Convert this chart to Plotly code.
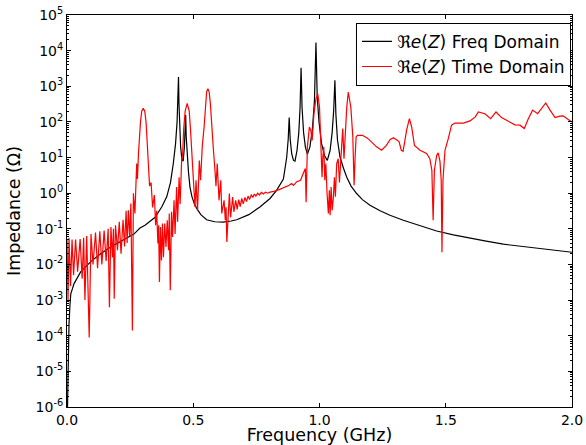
import plotly.graph_objects as go

# ---------------- data ----------------
freq_fd = [0.002, 0.005, 0.008, 0.012, 0.015, 0.028, 0.054, 0.094, 0.133, 0.173,
           0.199, 0.239, 0.265, 0.289, 0.309, 0.349, 0.375, 0.395, 0.410, 0.421,
           0.430, 0.436, 0.4395, 0.4416, 0.4435, 0.446, 0.450, 0.455, 0.460, 0.465,
           0.468, 0.470, 0.472, 0.476, 0.481, 0.487, 0.495, 0.504, 0.513, 0.530,
           0.553, 0.585, 0.619, 0.650, 0.672, 0.720, 0.764, 0.804, 0.830, 0.857,
           0.870, 0.876, 0.880, 0.884, 0.890, 0.897, 0.903, 0.911, 0.918, 0.923,
           0.927, 0.931, 0.937, 0.944, 0.952, 0.962, 0.972, 0.980, 0.986, 0.991,
           0.998, 1.008, 1.020, 1.031, 1.042, 1.050, 1.056, 1.061, 1.065, 1.071,
           1.081, 1.095, 1.108, 1.125, 1.147, 1.170, 1.200, 1.240, 1.279, 1.332,
           1.400, 1.464, 1.530, 1.596, 1.660, 1.728, 1.800, 1.860, 1.930, 2.000]
z_fd = [1.0e-6, 2.5e-5, 2.2e-4, 7.9e-4, 1.5e-3, 2.9e-3, 6.2e-3, 1.2e-2, 2.0e-2, 3.1e-2,
        3.9e-2, 5.4e-2, 7.1e-2, 1.05e-1, 1.26e-1, 2.1e-1, 4.1e-1, 7.9e-1, 2.0, 6.8,
        25, 100, 400, 1820, 316, 79, 20, 8.9, 7.9, 20,
        50, 155, 40, 10.5, 4.0, 1.48, 0.79, 0.51, 0.38, 0.25,
        0.18, 0.158, 0.155, 0.166, 0.18, 0.25, 0.41, 0.71, 1.2, 2.5,
        10, 32, 132, 32, 12.6, 8.3, 7.9, 16, 50, 250,
        3300, 250, 50, 20, 12.3, 20, 63, 400, 17000, 500,
        100, 25, 11.2, 8.3, 16, 50, 200, 1480, 160, 32,
        10.5, 5.0, 2.8, 1.58, 0.98, 0.66, 0.46, 0.32, 0.24, 0.174,
        0.12, 0.087, 0.068, 0.054, 0.045, 0.037, 0.032, 0.028, 0.025, 0.022]

freq_td = [0.000, 0.004, 0.008, 0.014, 0.020, 0.026, 0.034, 0.042, 0.052, 0.060,
           0.066, 0.071, 0.078, 0.088, 0.095, 0.103, 0.113, 0.121, 0.130, 0.138,
           0.147, 0.155, 0.163, 0.168, 0.174, 0.180, 0.184, 0.187, 0.192, 0.200,
           0.207, 0.214, 0.222, 0.228, 0.234, 0.238, 0.243, 0.248, 0.253, 0.259,
           0.263, 0.269, 0.276, 0.279, 0.283, 0.287, 0.291, 0.296, 0.302, 0.308,
           0.313, 0.317, 0.320, 0.322, 0.327, 0.333, 0.339, 0.346, 0.351, 0.355,
           0.360, 0.363, 0.366, 0.370, 0.374, 0.378, 0.382, 0.387, 0.392, 0.397,
           0.402, 0.405, 0.409, 0.414, 0.418, 0.424, 0.428, 0.434, 0.438, 0.444,
           0.448, 0.454, 0.458, 0.462, 0.468, 0.476, 0.484, 0.489, 0.494, 0.500,
           0.507, 0.511, 0.517, 0.524, 0.529, 0.536, 0.543, 0.548, 0.553, 0.558,
           0.563, 0.568, 0.573, 0.579, 0.586, 0.590, 0.595, 0.602, 0.609, 0.613,
           0.622, 0.627, 0.630, 0.633, 0.643, 0.648, 0.656, 0.661, 0.668, 0.674,
           0.680, 0.686, 0.692, 0.698, 0.705, 0.711, 0.717, 0.723, 0.730, 0.736,
           0.742, 0.748, 0.755, 0.762, 0.770, 0.778, 0.786, 0.795, 0.804, 0.820,
           0.840, 0.860, 0.880, 0.890, 0.897, 0.910, 0.925, 0.935, 0.944, 0.947,
           0.952, 0.960, 0.966, 0.971, 0.978, 0.986, 0.993, 1.000, 1.006, 1.010,
           1.013, 1.017, 1.021, 1.025, 1.030, 1.035, 1.039, 1.042, 1.046, 1.050,
           1.055, 1.059, 1.063, 1.068, 1.074, 1.079, 1.085, 1.092, 1.097, 1.102,
           1.108, 1.114, 1.120, 1.124, 1.132, 1.137, 1.141, 1.145, 1.150, 1.170,
           1.190, 1.200, 1.226, 1.246, 1.265, 1.280, 1.293, 1.315, 1.324, 1.331,
           1.345, 1.356, 1.365, 1.376, 1.398, 1.424, 1.437, 1.445, 1.450, 1.455,
           1.464, 1.470, 1.477, 1.482, 1.485, 1.489, 1.497, 1.510, 1.523, 1.536,
           1.570, 1.596, 1.617, 1.629, 1.655, 1.678, 1.699, 1.721, 1.747, 1.774,
           1.794, 1.811, 1.827, 1.844, 1.864, 1.880, 1.896, 1.913, 1.933, 1.952,
           1.965, 1.985, 2.000]
z_td = [0.05, 1.0e-3, 0.056, 2.5e-3, 0.05, 5.0e-3, 0.05, 6.3e-3, 0.052, 4.0e-3,
        0.056, 1.0e-3, 0.063, 8.9e-5, 0.071, 0.01, 0.079, 7.9e-3, 0.085, 0.01,
        0.089, 0.0126, 0.1, 6.3e-4, 0.112, 0.0158, 0.1, 1.1e-3, 0.126, 0.025,
        0.158, 0.02, 0.178, 0.032, 0.32, 0.04, 0.33, 0.063, 0.51, 1.4e-4,
        1.0, 0.27, 6.8, 2.5, 12.6, 40, 100, 200, 240, 200,
        100, 32, 10, 6.8, 1.58, 2.0, 0.4, 0.89, 0.126, 0.32,
        0.039, 0.126, 3.2e-3, 0.112, 0.013, 0.14, 0.016, 0.14, 0.031, 0.174,
        0.025, 0.27, 1.9e-3, 0.3, 0.059, 0.63, 0.072, 1.48, 0.158, 2.8,
        0.5, 8.3, 12.6, 63, 200, 330, 200, 63, 10.5, 2.8,
        0.41, 2.3, 0.32, 8.3, 2.3, 22, 72, 316, 700, 850,
        700, 316, 72, 20, 4.4, 1.58, 6.8, 0.63, 2.3, 0.27,
        0.63, 0.174, 0.4, 0.043, 0.98, 0.21, 0.78, 0.3, 0.63, 0.35,
        0.66, 0.42, 0.71, 0.5, 0.76, 0.58, 0.83, 0.66, 0.91, 0.76,
        0.95, 0.83, 1.0, 0.89, 1.05, 0.95, 1.07, 1.0, 1.07, 1.12,
        1.26, 1.41, 1.66, 1.86, 1.66, 2.1, 2.3, 3.5, 4.9, 0.56,
        20, 72, 56, 30, 170, 450, 620, 260, 30, 2.8,
        10, 20, 2.3, 6.8, 0.98, 0.27, 1.2, 0.24, 1.48, 0.33,
        0.78, 2.8, 0.79, 6.8, 9.3, 2.0, 10, 65, 9.3, 63,
        260, 690, 400, 260, 38, 1.66, 10, 38, 42, 42,
        35, 30, 20, 16, 22, 32, 36, 28, 16, 15,
        59, 123, 72, 22, 16, 13, 9.3, 4.4, 0.174, 4.4,
        11.5, 13.5, 7.9, 2.3, 0.022, 2.3, 16, 34, 81, 93,
        93, 107, 138, 190, 170, 123, 190, 132, 107, 83,
        81, 65, 123, 214, 170, 234, 339, 214, 132, 145,
        148, 117, 100]

x_tick_vals = [0.0, 0.5, 1.0, 1.5, 2.0]
x_tick_text = ["0.0", "0.5", "1.0", "1.5", "2.0"]
y_exponents = [-6, -5, -4, -3, -2, -1, 0, 1, 2, 3, 4, 5]
y_tick_vals = [10.0 ** e for e in y_exponents]
y_tick_text = ["10<sup>%d</sup>" % e for e in y_exponents]
y_minor_vals = [m * 10.0 ** e for e in y_exponents[:-1] for m in range(2, 10)]

name_fd = "ℜ<i>e</i>(<i>Z</i>) Freq Domain"
name_td = "ℜ<i>e</i>(<i>Z</i>) Time Domain"

fig = go.Figure()
fig.add_trace(go.Scatter(x=freq_fd, y=z_fd, mode="lines", name=name_fd, legendgroup="fd",
                         line=dict(color="#000000", width=1.2)))
fig.add_trace(go.Scatter(x=freq_td, y=z_td, mode="lines", name=name_td, legendgroup="td",
                         line=dict(color="#ff0000", width=1.2)))

fig.update_layout(
    width=586, height=445,
    margin=dict(l=67, r=14, t=15, b=38, autoexpand=False),
    paper_bgcolor="white", plot_bgcolor="white",
    font=dict(family="DejaVu Sans", size=14, color="black"),
    showlegend=True,
    legend=dict(x=0.998, y=0.98, xanchor="right", yanchor="top",
                bordercolor="black", borderwidth=1, bgcolor="white",
                font=dict(size=17), tracegroupgap=0, traceorder="grouped",
                itemwidth=30),
)
fig.update_xaxes(
    range=[0, 2], tickvals=x_tick_vals, ticktext=x_tick_text,
    ticks="inside", ticklen=4, tickcolor="black", automargin=False,
    showline=True, linecolor="black", linewidth=1, mirror="allticks",
    showgrid=False, zeroline=False,
    title=dict(text="Frequency (GHz)", font=dict(size=17.5), standoff=6),
)
fig.update_yaxes(
    type="log", range=[-6, 5], tickvals=y_tick_vals, ticktext=y_tick_text,
    ticks="inside", ticklen=4, tickcolor="black", automargin=False,
    minor=dict(tickvals=y_minor_vals, ticks="inside", ticklen=2, tickcolor="black", showgrid=False),
    showline=True, linecolor="black", linewidth=1, mirror="allticks",
    showgrid=False, zeroline=False,
    title=dict(text="Impedance (Ω)", font=dict(size=17.5), standoff=10),
)

fig.write_html("out.html", config={"displayModeBar": False},
               post_script="document.body.style.margin='0';document.body.style.overflow='hidden';")
